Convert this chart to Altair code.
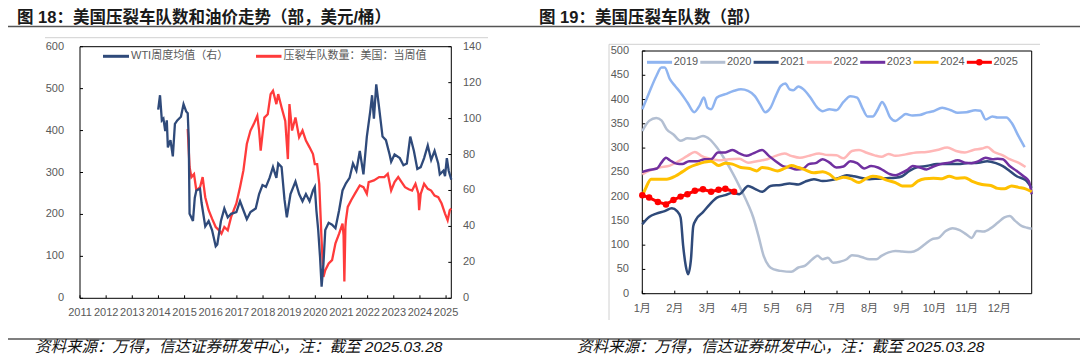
import altair as alt
import pandas as pd

# ---------------- data : figure 18 (left) ----------------
wti_t = [2013.99, 2014.06, 2014.13, 2014.19, 2014.26, 2014.32, 2014.36, 2014.46, 2014.55, 2014.63,
         2014.72, 2014.86, 2014.96, 2015.06, 2015.12, 2015.16, 2015.19, 2015.26, 2015.32, 2015.39,
         2015.45, 2015.59, 2015.65, 2015.79, 2015.92, 2016.05, 2016.19, 2016.25, 2016.39, 2016.52,
         2016.65, 2016.78, 2016.98, 2017.12, 2017.25, 2017.38, 2017.52, 2017.72, 2017.85, 2017.98,
         2018.11, 2018.25, 2018.38, 2018.51, 2018.58, 2018.71, 2018.82, 2018.91, 2019.05, 2019.24,
         2019.38, 2019.51, 2019.64, 2019.78, 2019.91, 2019.98, 2020.04, 2020.11, 2020.18, 2020.24,
         2020.31, 2020.38, 2020.51, 2020.64, 2020.77, 2020.91, 2021.04, 2021.17, 2021.31, 2021.44,
         2021.57, 2021.70, 2021.84, 2021.97, 2022.10, 2022.17, 2022.24, 2022.33, 2022.44, 2022.57,
         2022.70, 2022.84, 2022.90, 2023.03, 2023.23, 2023.37, 2023.50, 2023.63, 2023.77, 2023.90,
         2024.03, 2024.16, 2024.30, 2024.43, 2024.56, 2024.70, 2024.76, 2024.90, 2024.96, 2025.03,
         2025.10, 2025.20]
wti_v = [105, 113, 99, 100, 93, 99, 84, 88, 79, 97,
         99, 101, 108, 104, 103, 88, 47, 45, 43, 56,
         60, 61, 53, 40, 43, 38, 29, 30, 43, 50,
         45, 47, 48, 54, 49, 44, 48, 50, 58, 63,
         62, 67, 73, 67, 75, 73, 55, 45, 58, 65,
         58, 54, 58, 54, 60, 62, 49, 38, 23, 6.5,
         19, 38, 42, 41, 39, 49, 60, 64, 67, 75,
         71, 82, 69, 90, 104, 113, 100, 119, 106, 90,
         88, 80, 76, 80, 78, 74, 75, 90, 82, 72,
         73, 78, 85, 77, 82, 75, 69, 71, 68, 78,
         71, 66]

frac_t = [2015.12, 2015.19, 2015.26, 2015.36, 2015.45, 2015.59, 2015.69, 2015.79, 2015.92, 2016.05,
          2016.19, 2016.32, 2016.41, 2016.52, 2016.65, 2016.78, 2016.98, 2017.12, 2017.25, 2017.38,
          2017.52, 2017.65, 2017.78, 2017.85, 2017.91, 2018.05, 2018.18, 2018.29, 2018.38, 2018.51,
          2018.58, 2018.71, 2018.85, 2018.95, 2019.01, 2019.11, 2019.24, 2019.38, 2019.51, 2019.64,
          2019.78, 2019.91, 2019.98, 2020.07, 2020.15, 2020.24, 2020.31, 2020.38, 2020.51, 2020.64,
          2020.77, 2020.91, 2021.04, 2021.08, 2021.11, 2021.15, 2021.17, 2021.24, 2021.37, 2021.51,
          2021.70, 2021.84, 2021.97, 2022.04, 2022.24, 2022.44, 2022.64, 2022.77, 2022.90, 2023.03,
          2023.17, 2023.30, 2023.43, 2023.57, 2023.70, 2023.83, 2023.94, 2023.97, 2024.03, 2024.16,
          2024.30, 2024.43, 2024.56, 2024.70, 2024.83, 2024.96, 2025.06, 2025.14, 2025.20]
frac_v = [404, 313, 289, 296, 257, 265, 289, 241, 210, 190,
          170, 162, 154, 170, 162, 194, 226, 265, 305, 368,
          400, 416, 435, 400, 352, 431, 439, 487, 495, 463,
          487, 455, 423, 332, 463, 400, 431, 384, 400, 376,
          360, 344, 320, 320, 273, 138, 51, 67, 83, 91,
          131, 154, 178, 150, 40, 170, 186, 218, 234, 249,
          269, 265, 249, 277, 281, 289, 289, 297, 257, 277,
          289, 277, 265, 260, 257, 273, 250, 210, 249, 273,
          261, 257, 245, 241, 226, 202, 186, 210, 214]

year_ticks = list(range(2011, 2026))
left_ticks = [0, 100, 200, 300, 400, 500, 600]
right_ticks = [0, 20, 40, 60, 80, 100, 120, 140]

title18 = "图 18：美国压裂车队数和油价走势（部，美元/桶）"
legend18 = ["WTI周度均值（右）", "压裂车队数量：美国：当周值"]

# ---------------- data : figure 19 (right) ----------------
years = ["2019", "2020", "2021", "2022", "2023", "2024", "2025"]
year_colors = ["#8FB4F0", "#B3BFD2", "#2F4A7A", "#FFB7B7", "#7030A0", "#FFC000", "#FF0000"]
months = list(range(1, 13))
month_labels = [f"{m}月" for m in months]
r_ticks = [0, 50, 100, 150, 200, 250, 300, 350, 400, 450, 500]

x2019 = [1.00, 1.21, 1.43, 1.59, 1.69, 1.85, 2.01, 2.18, 2.39, 2.60, 2.76, 2.90, 3.01, 3.12, 3.30, 3.56,
         3.83, 4.04, 4.26, 4.47, 4.63, 4.79, 4.95, 5.11, 5.27, 5.41, 5.54, 5.65, 5.81, 5.97, 6.18, 6.40,
         6.56, 6.77, 6.98, 7.20, 7.41, 7.62, 7.78, 7.94, 8.10, 8.26, 8.39, 8.48, 8.64, 8.80, 8.96, 9.12,
         9.33, 9.55, 9.76, 9.97, 10.24, 10.51, 10.72, 10.99, 11.26, 11.42, 11.58, 11.79, 11.95, 12.22,
         12.38, 12.59, 12.78]
v2019 = [380, 414, 448, 466, 466, 442, 428, 414, 394, 374, 387, 404, 383, 380, 404, 411,
         418, 421, 418, 407, 390, 374, 383, 407, 428, 433, 421, 419, 427, 421, 404, 383,
         376, 380, 378, 395, 407, 404, 383, 365, 365, 380, 395, 387, 363, 356, 363, 370,
         367, 368, 373, 376, 383, 378, 373, 374, 378, 377, 359, 365, 363, 363,
         352, 325, 302]

x2020 = [1.00, 1.21, 1.43, 1.59, 1.75, 1.96, 2.18, 2.39, 2.60, 2.87, 3.08, 3.30, 3.51, 3.78, 4.04, 4.26,
         4.42, 4.58, 4.74, 4.90, 5.06, 5.27, 5.59, 5.81, 6.02, 6.24, 6.40, 6.56, 6.72, 6.88, 7.09, 7.30,
         7.46, 7.62, 7.78, 8.00, 8.21, 8.37, 8.59, 8.80, 9.01, 9.28, 9.49, 9.71, 9.92, 10.13, 10.35,
         10.56, 10.78, 10.99, 11.15, 11.31, 11.52, 11.74, 11.95, 12.16, 12.32, 12.49, 12.70, 12.86, 13.00]
v2020 = [335, 356, 362, 357, 339, 328, 315, 320, 319, 325, 318, 301, 280, 249, 215, 184,
         157, 119, 78, 57, 50, 47, 45, 54, 58, 71, 78, 71, 74, 64, 66, 71,
         79, 78, 75, 71, 71, 78, 85, 88, 87, 86, 91, 102, 112, 115, 129,
         135, 131, 122, 115, 129, 128, 135, 146, 157, 160, 150, 139, 136, 134]

x2021 = [1.00, 1.21, 1.43, 1.69, 1.91, 2.07, 2.18, 2.26, 2.34, 2.41, 2.50, 2.57, 2.66, 2.87, 3.08, 3.30,
         3.56, 3.78, 3.99, 4.26, 4.47, 4.69, 4.95, 5.27, 5.54, 5.81, 6.02, 6.29, 6.56, 6.82, 7.04, 7.30,
         7.52, 7.73, 8.00, 8.26, 8.53, 8.80, 9.01, 9.23, 9.49, 9.76, 10.08, 10.40, 10.72, 11.04, 11.36,
         11.63, 11.90, 12.11, 12.32, 12.54, 12.81, 13.00]
v2021 = [143, 158, 165, 170, 176, 170, 157, 98, 57, 40, 71, 139, 153, 168, 184, 198,
         203, 208, 205, 222, 216, 210, 222, 224, 227, 225, 231, 236, 232, 234, 238, 244,
         242, 239, 236, 237, 238, 239, 242, 253, 261, 263, 267, 267, 267, 269, 270,
         273, 269, 263, 253, 242, 234, 218]

x2022 = [1.00, 1.21, 1.53, 1.85, 2.12, 2.39, 2.62, 2.82, 3.03, 3.35, 3.67, 3.99, 4.26, 4.53, 4.85, 5.11,
         5.38, 5.59, 5.86, 6.13, 6.45, 6.66, 6.98, 7.20, 7.46, 7.68, 7.89, 8.16, 8.37, 8.59, 8.80, 9.12,
         9.44, 9.76, 10.08, 10.40, 10.67, 10.94, 11.20, 11.47, 11.63, 11.84, 12.11, 12.32, 12.59, 12.81]
v2022 = [246, 253, 260, 264, 273, 284, 292, 284, 279, 275, 277, 278, 270, 273, 277, 284,
         289, 284, 280, 284, 289, 286, 285, 279, 294, 296, 291, 285, 282, 288, 284, 287,
         291, 292, 296, 301, 294, 291, 296, 299, 302, 292, 285, 277, 270, 261]

x2023 = [1.00, 1.21, 1.45, 1.59, 1.73, 1.85, 2.05, 2.23, 2.44, 2.71, 2.92, 3.12, 3.33, 3.56, 3.78, 3.99,
         4.21, 4.42, 4.69, 4.90, 5.11, 5.33, 5.54, 5.75, 5.97, 6.13, 6.34, 6.56, 6.77, 6.98, 7.20, 7.41,
         7.62, 7.84, 8.05, 8.26, 8.43, 8.64, 8.80, 8.96, 9.17, 9.33, 9.55, 9.76, 9.97, 10.19, 10.46,
         10.72, 10.94, 11.15, 11.36, 11.58, 11.79, 11.95, 12.11, 12.32, 12.54, 12.75, 12.91, 13.00]
v2023 = [251, 255, 258, 270, 280, 275, 268, 267, 273, 273, 277, 277, 291, 291, 296, 289,
         284, 289, 296, 284, 273, 263, 260, 256, 258, 267, 269, 277, 270, 260, 262, 273,
         269, 258, 263, 260, 254, 246, 244, 248, 255, 263, 260, 256, 262, 267, 270,
         275, 270, 269, 273, 280, 277, 278, 277, 263, 253, 242, 232, 205]

x2024 = [1.00, 1.11, 1.27, 1.53, 1.75, 2.01, 2.23, 2.44, 2.71, 2.92, 3.12, 3.35, 3.56, 3.78, 4.04, 4.31,
         4.53, 4.69, 4.90, 5.17, 5.38, 5.59, 5.81, 6.02, 6.29, 6.56, 6.77, 6.98, 7.20, 7.41, 7.68, 7.89,
         8.10, 8.32, 8.53, 8.80, 9.01, 9.28, 9.49, 9.71, 9.97, 10.24, 10.46, 10.67, 10.94, 11.15, 11.47,
         11.74, 11.95, 12.16, 12.38, 12.59, 12.81, 13.00]
v2024 = [201, 218, 236, 236, 236, 242, 251, 260, 267, 271, 273, 264, 269, 267, 260, 258,
         253, 260, 258, 253, 258, 264, 260, 255, 249, 251, 246, 236, 240, 237, 229, 237,
         242, 240, 234, 229, 222, 222, 232, 237, 238, 237, 242, 238, 239, 232, 225,
         223, 217, 216, 222, 219, 216, 210]

x2025 = [1.00, 1.21, 1.48, 1.73, 1.96, 2.18, 2.39, 2.62, 2.87, 3.12, 3.35, 3.56, 3.83]
v2025 = [203, 198, 189, 184, 193, 200, 205, 212, 215, 210, 214, 216, 210]

title19 = "图 19：美国压裂车队数（部）"
source_note = "资料来源：万得，信达证券研发中心，注：截至 2025.03.28"

# ---------------- layout (chart coordinates = page - 8) ----------------
FONT = "Liberation Sans, Noto Sans CJK SC"
GRAY = "#595959"
W, H = 1072, 347

LX = alt.Scale(domain=[2011, 2025.2], range=[72, 443.3], nice=False, zero=False)
LY = alt.Scale(domain=[0, 600], range=[290.3, 38.7], nice=False, zero=False)
LY2 = alt.Scale(domain=[0, 140], range=[290.3, 38.7], nice=False, zero=False)
RX = alt.Scale(domain=[1, 13], range=[634.3, 1023.7], nice=False, zero=False)
RY = alt.Scale(domain=[0, 500], range=[285.7, 43], nice=False, zero=False)
LEGX = alt.Scale(domain=[0, 6], range=[639, 958.8], nice=False, zero=False)

one = pd.DataFrame({"k": [0]})
layers = []


def rule(x1, x2, y1, y2, color, sw):
    return alt.Chart(one).mark_rule(color=color, strokeWidth=sw).encode(
        x=alt.value(x1), x2=alt.value(x2), y=alt.value(y1), y2=alt.value(y2))


def label(txt, x, y, size=11, color=GRAY, align="left", weight="normal", style="normal"):
    return alt.Chart(one).mark_text(
        align=align, baseline="middle", fontSize=size, color=color, font=FONT,
        fontWeight=weight, fontStyle=style, text=txt).encode(x=alt.value(x), y=alt.value(y))


# titles and separator lines
layers.append(label(title18, 9, 9.5, size=16.5, color="#1A1A1A", weight="bold"))
layers.append(label(title19, 531, 9.5, size=16.5, color="#1A1A1A", weight="bold"))
layers.append(rule(0, W, 18.5, 18.5, "#555555", 1.5))
layers.append(rule(0, W, 331, 331, "#555555", 1.5))
layers.append(label(source_note, 27, 339, size=15.5, color="#111111", style="italic"))
layers.append(label(source_note, 569, 339, size=15.5, color="#111111", style="italic"))

# outer light frames
layers.append(rule(37, 480, 29.7, 29.7, "#D0D0D0", 1))
layers.append(rule(601, 1032, 36.3, 36.3, "#D0D0D0", 1))
layers.append(rule(601, 601, 36.3, 312, "#D0D0D0", 1))

# ---------- left panel ----------
layers.append(alt.Chart(one).mark_rect(filled=False, stroke="#000000", strokeWidth=1).encode(
    x=alt.value(72), x2=alt.value(443.3), y=alt.value(38.7), y2=alt.value(290.3)))

ly_df = pd.DataFrame({"v": left_ticks, "lab": [str(v) for v in left_ticks]})
ry_df = pd.DataFrame({"v": right_ticks, "lab": [str(v) for v in right_ticks]})
yr_df = pd.DataFrame({"v": year_ticks, "lab": [str(v) for v in year_ticks]})

layers.append(alt.Chart(ly_df).mark_text(align="right", baseline="middle", fontSize=11,
                                         color=GRAY, font=FONT).encode(
    y=alt.Y("v:Q", scale=LY, axis=None), x=alt.value(56), text="lab:N"))
layers.append(alt.Chart(ly_df).mark_rule(color="#000000").encode(
    y=alt.Y("v:Q", scale=LY, axis=None), x=alt.value(72), x2=alt.value(75)))
layers.append(alt.Chart(ry_df).mark_text(align="left", baseline="middle", fontSize=11,
                                         color=GRAY, font=FONT).encode(
    y=alt.Y("v:Q", scale=LY2, axis=None), x=alt.value(455), text="lab:N"))
layers.append(alt.Chart(ry_df).mark_rule(color="#000000").encode(
    y=alt.Y("v:Q", scale=LY2, axis=None), x=alt.value(440.3), x2=alt.value(443.3)))
layers.append(alt.Chart(yr_df).mark_text(align="center", baseline="middle", fontSize=11,
                                         color=GRAY, font=FONT).encode(
    x=alt.X("v:Q", scale=LX, axis=None), y=alt.value(305), text="lab:N"))
layers.append(alt.Chart(yr_df).mark_rule(color="#000000").encode(
    x=alt.X("v:Q", scale=LX, axis=None), y=alt.value(287.3), y2=alt.value(290.3)))

wti_df = pd.DataFrame({"t": wti_t, "v": wti_v})
frac_df = pd.DataFrame({"t": frac_t, "v": frac_v})
layers.append(alt.Chart(frac_df).mark_line(color="#FF3B3B", strokeWidth=2.3).encode(
    x=alt.X("t:Q", scale=LX, axis=None), y=alt.Y("v:Q", scale=LY, axis=None)))
layers.append(alt.Chart(wti_df).mark_line(color="#2F4A7A", strokeWidth=2.3).encode(
    x=alt.X("t:Q", scale=LX, axis=None), y=alt.Y("v:Q", scale=LY2, axis=None)))

# left legend
layers.append(rule(95, 121, 48.3, 48.3, "#2F4A7A", 3))
layers.append(label(legend18[0], 123, 48.3))
layers.append(rule(248, 273.5, 48.3, 48.3, "#FF3B3B", 3))
layers.append(label(legend18[1], 275.5, 48.3))

# ---------- right panel ----------
layers.append(alt.Chart(one).mark_rect(filled=False, stroke="#000000", strokeWidth=1).encode(
    x=alt.value(634.3), x2=alt.value(1023.7), y=alt.value(43), y2=alt.value(285.7)))

rt_df = pd.DataFrame({"v": r_ticks, "lab": [str(v) for v in r_ticks]})
mo_df = pd.DataFrame({"v": months, "lab": month_labels})
layers.append(alt.Chart(rt_df).mark_text(align="right", baseline="middle", fontSize=11,
                                         color=GRAY, font=FONT).encode(
    y=alt.Y("v:Q", scale=RY, axis=None), x=alt.value(621), text="lab:N"))
layers.append(alt.Chart(rt_df).mark_rule(color="#000000").encode(
    y=alt.Y("v:Q", scale=RY, axis=None), x=alt.value(634.3), x2=alt.value(637.3)))
layers.append(alt.Chart(mo_df).mark_text(align="center", baseline="middle", fontSize=11,
                                         color=GRAY, font=FONT).encode(
    x=alt.X("v:Q", scale=RX, axis=None), y=alt.value(301), text="lab:N"))
layers.append(alt.Chart(mo_df).mark_rule(color="#000000").encode(
    x=alt.X("v:Q", scale=RX, axis=None), y=alt.value(282.7), y2=alt.value(285.7)))

series = [(x2019, v2019), (x2020, v2020), (x2021, v2021), (x2022, v2022),
          (x2023, v2023), (x2024, v2024)]
widths = [2.5, 2.5, 2.5, 2.5, 2.5, 3]
for (xs, vs), col, sw in zip(series, year_colors[:6], widths):
    df = pd.DataFrame({"m": xs, "v": vs})
    layers.append(alt.Chart(df).mark_line(color=col, strokeWidth=sw, interpolate="monotone").encode(
        x=alt.X("m:Q", scale=RX, axis=None), y=alt.Y("v:Q", scale=RY, axis=None)))

d25 = pd.DataFrame({"m": x2025, "v": v2025})
layers.append(alt.Chart(d25).mark_line(color="#FF0000", strokeWidth=3).encode(
    x=alt.X("m:Q", scale=RX, axis=None), y=alt.Y("v:Q", scale=RY, axis=None)))
layers.append(alt.Chart(d25).mark_circle(color="#FF0000", size=42, opacity=1).encode(
    x=alt.X("m:Q", scale=RX, axis=None), y=alt.Y("v:Q", scale=RY, axis=None)))

# right legend
leg = pd.DataFrame({"i": list(range(7)), "year": years})
leg["s"] = leg["i"]
leg["e"] = leg["i"] + 0.47
leg["tx"] = leg["i"] + 0.5
leg["mid"] = leg["i"] + 0.235
cscale = alt.Scale(domain=years, range=year_colors)
layers.append(alt.Chart(leg).mark_rule(strokeWidth=3).encode(
    x=alt.X("s:Q", scale=LEGX, axis=None), x2="e:Q", y=alt.value(54.3),
    color=alt.Color("year:N", scale=cscale, legend=None)))
layers.append(alt.Chart(leg).mark_text(align="left", baseline="middle", fontSize=11,
                                       color=GRAY, font=FONT).encode(
    x=alt.X("tx:Q", scale=LEGX, axis=None), y=alt.value(54.3), text="year:N"))
layers.append(alt.Chart(leg[leg["year"] == "2025"]).mark_circle(color="#FF0000", size=42, opacity=1).encode(
    x=alt.X("mid:Q", scale=LEGX, axis=None), y=alt.value(54.3)))

chart = alt.layer(*layers).resolve_scale(
    x="independent", y="independent"
).properties(
    width=W, height=H, padding=0, autosize=alt.AutoSizeParams(type="none")
).configure_view(stroke=None)

chart.save("out.html", embed_options={"renderer": "svg", "actions": False})
